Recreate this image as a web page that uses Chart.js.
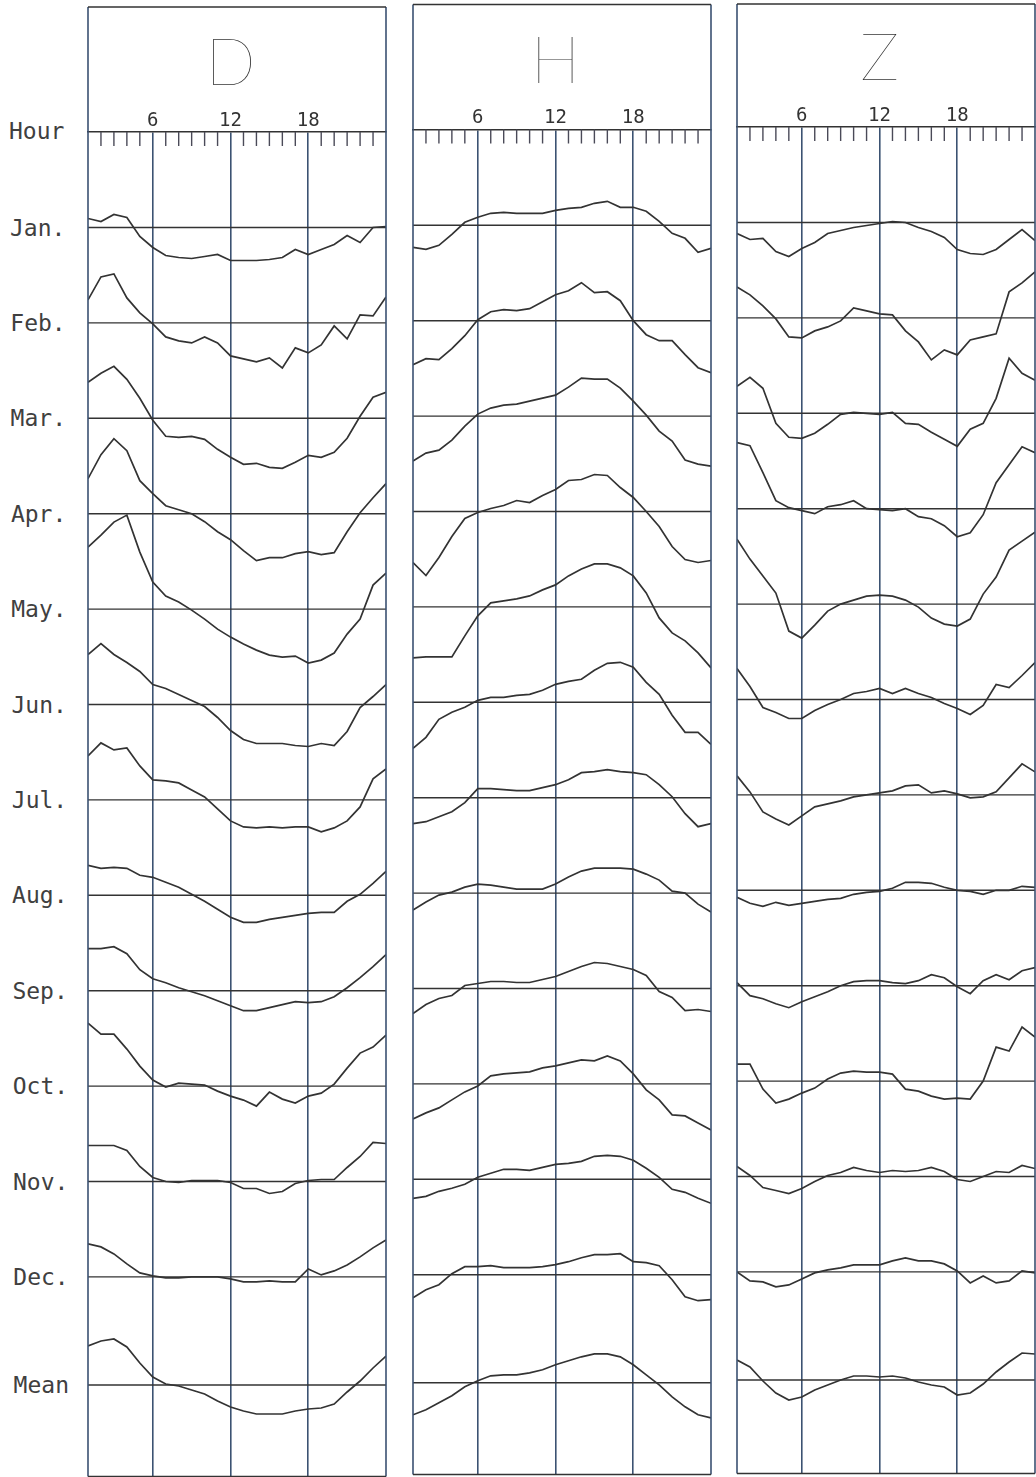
<!DOCTYPE html>
<html>
<head>
<meta charset="utf-8">
<script src="https://cdn.jsdelivr.net/npm/chart.js@4.4.1/dist/chart.umd.min.js"></script>
<style>
  html, body { margin: 0; padding: 0; background: #fff; overflow: hidden; }
  body { width: 1036px; height: 1477px; position: relative; }
  canvas.panel { position: absolute; top: 0; }
  .rowlab {
    position: absolute;
    font-family: "DejaVu Sans Mono", monospace;
    font-size: 23px;
    line-height: 28px;
    color: #404040;
    white-space: nowrap;
  }
</style>
</head>
<body>
<canvas id="chartD" class="panel"></canvas>
<canvas id="chartH" class="panel"></canvas>
<canvas id="chartZ" class="panel"></canvas>
<script>
"use strict";

// ---- data (deviation from each row's base line, hourly values 1..24 h) ----
const HOURS       = [1, 2, 3, 4, 5, 6, 7, 8, 9, 10, 11, 12, 13, 14, 15, 16, 17, 18, 19, 20, 21, 22, 23, 24];
const HOUR_LABELS = [6, 12, 18];
const ROW_LABELS  = ["Jan.", "Feb.", "Mar.", "Apr.", "May.", "Jun.", "Jul.", "Aug.", "Sep.", "Oct.", "Nov.", "Dec.", "Mean"];

const dCurves = [
  [9, 6, 13, 10, -9, -20, -28, -30, -31, -29, -27, -33, -33, -33, -32, -30, -22, -27, -22, -17, -8, -15, 0, 1],
  [23, 46, 49, 25, 10, -1, -14, -18, -20, -14, -20, -33, -36, -39, -35, -45, -25, -30, -22, -3, -16, 8, 7, 26],
  [36, 45, 52, 39, 20, -2, -18, -19, -18, -21, -31, -39, -46, -45, -49, -50, -44, -37, -39, -34, -20, 2, 21, 26],
  [35, 59, 75, 63, 33, 20, 8, 4, 0, -8, -18, -26, -37, -47, -44, -44, -40, -38, -41, -39, -18, 1, 16, 30],
  [62, 74, 87, 94, 57, 27, 13, 7, -1, -10, -20, -28, -35, -41, -46, -48, -47, -54, -51, -44, -25, -10, 24, 36],
  [50, 61, 50, 42, 33, 20, 16, 10, 4, -2, -13, -26, -35, -39, -39, -39, -41, -42, -39, -41, -27, -3, 8, 20],
  [44, 57, 50, 52, 34, 20, 19, 17, 10, 3, -9, -21, -27, -28, -27, -28, -27, -27, -32, -28, -21, -7, 21, 31],
  [30, 27, 28, 27, 20, 18, 13, 8, 1, -6, -14, -22, -27, -27, -24, -22, -20, -18, -17, -17, -6, 1, 12, 24],
  [42, 42, 44, 37, 21, 12, 8, 3, -1, -5, -10, -15, -20, -20, -17, -14, -11, -12, -11, -6, 3, 13, 24, 36],
  [63, 52, 52, 37, 20, 6, -1, 3, 2, 1, -5, -10, -14, -20, -6, -13, -17, -10, -7, 2, 18, 33, 39, 51],
  [36, 36, 36, 31, 15, 4, 0, -1, 1, 1, 1, -1, -7, -7, -12, -10, -2, 1, 2, 2, 14, 25, 39, 38],
  [33, 30, 23, 13, 4, 1, -1, -1, 0, 0, 0, -2, -5, -5, -4, -5, -5, 8, 2, 6, 12, 20, 29, 37],
  [39, 44, 46, 38, 22, 8, 1, -1, -5, -9, -16, -22, -26, -29, -29, -29, -26, -24, -23, -19, -7, 4, 17, 29],
];

const hCurves = [
  [-22, -24, -20, -9, 3, 8, 12, 13, 12, 12, 12, 15, 17, 18, 22, 24, 18, 18, 14, 4, -8, -13, -27, -23],
  [-44, -38, -39, -28, -15, 1, 9, 11, 10, 12, 19, 26, 30, 38, 28, 29, 20, 0, -14, -20, -20, -34, -47, -52],
  [-45, -37, -34, -24, -10, 2, 8, 11, 12, 15, 18, 21, 29, 38, 37, 37, 28, 15, 1, -15, -25, -44, -48, -50],
  [-51, -64, -46, -25, -7, -1, 3, 6, 11, 9, 16, 22, 31, 32, 37, 36, 24, 14, 0, -15, -35, -48, -51, -49],
  [-51, -50, -50, -50, -29, -9, 4, 6, 8, 11, 17, 22, 31, 38, 43, 43, 39, 31, 14, -11, -26, -34, -46, -61],
  [-46, -35, -17, -10, -5, 2, 5, 5, 7, 8, 12, 18, 21, 23, 32, 39, 40, 35, 20, 8, -13, -30, -30, -42],
  [-26, -24, -19, -14, -5, 9, 9, 8, 7, 7, 10, 13, 18, 25, 26, 28, 26, 25, 23, 13, 1, -16, -29, -26],
  [-17, -9, -2, 1, 6, 9, 8, 6, 4, 4, 4, 9, 16, 22, 25, 25, 25, 24, 19, 13, 2, 0, -11, -19],
  [-25, -16, -10, -7, 3, 5, 7, 7, 6, 6, 9, 12, 17, 22, 26, 25, 22, 19, 13, -3, -9, -22, -21, -23],
  [-35, -29, -24, -16, -8, -2, 8, 10, 11, 12, 16, 18, 21, 24, 23, 28, 23, 10, -6, -16, -31, -32, -39, -46],
  [-19, -17, -12, -9, -5, 2, 6, 10, 10, 9, 12, 15, 16, 18, 23, 24, 23, 19, 11, 2, -10, -13, -19, -24],
  [-23, -15, -10, 1, 8, 8, 9, 7, 7, 7, 8, 10, 13, 17, 20, 20, 21, 13, 12, 9, -5, -22, -26, -25],
  [-32, -27, -20, -13, -4, 2, 7, 8, 8, 10, 13, 18, 22, 26, 29, 29, 26, 18, 8, -2, -14, -24, -32, -35],
];

const zCurves = [
  [-11, -17, -16, -29, -34, -26, -20, -11, -8, -5, -3, -1, 1, 0, -5, -9, -15, -27, -31, -32, -27, -17, -7, -18],
  [31, 23, 12, -1, -19, -20, -13, -9, -3, 10, 7, 4, 3, -13, -24, -42, -32, -37, -22, -19, -16, 26, 35, 46],
  [27, 36, 25, -10, -24, -25, -20, -11, -1, 1, 0, -1, 1, -10, -11, -19, -26, -33, -16, -10, 15, 55, 40, 33],
  [66, 63, 36, 8, 1, -2, -5, 2, 4, 8, 0, -1, -2, 0, -8, -10, -17, -28, -24, -6, 26, 44, 62, 56],
  [65, 45, 28, 11, -27, -34, -21, -7, 0, 4, 8, 9, 8, 4, -3, -14, -20, -22, -15, 10, 27, 54, 63, 72],
  [31, 13, -8, -13, -19, -19, -11, -5, 0, 6, 8, 11, 6, 11, 6, 2, -4, -9, -15, -6, 15, 12, 24, 37],
  [19, 3, -17, -24, -30, -21, -12, -9, -6, -2, 0, 2, 4, 9, 10, 2, 4, 1, -3, -2, 3, 17, 31, 23],
  [-7, -13, -16, -12, -15, -13, -11, -9, -8, -4, -2, -1, 2, 8, 8, 7, 3, 0, -1, -4, 0, 0, 4, 3],
  [3, -10, -13, -18, -22, -16, -11, -6, 0, 4, 5, 5, 3, 2, 5, 11, 8, -1, -8, 5, 11, 6, 15, 18],
  [17, 17, -8, -22, -18, -12, -7, 2, 8, 10, 9, 9, 7, -8, -10, -15, -18, -17, -18, 0, 34, 30, 54, 44],
  [10, 1, -11, -14, -17, -12, -5, 1, 4, 9, 6, 4, 6, 5, 6, 9, 5, -3, -5, 0, 5, 4, 11, 8],
  [0, -9, -10, -15, -13, -7, -1, 2, 4, 7, 7, 7, 11, 14, 11, 11, 8, 1, -11, -4, -11, -9, 1, -1],
  [20, 13, -1, -13, -20, -17, -10, -5, 0, 4, 4, 3, 4, 2, -2, -5, -7, -15, -13, -4, 8, 18, 27, 26],
];

// ---- layout ----
const PAGE_H      = 1477;
const PANEL_W     = 298;
const FIRST_ROW_Y = 227.5;
const ROW_STEP    = 95.4;
const MEAN_ROW_Y  = 1385;
const X_SCALE_H   = 26;

const INK    = "#333333";
const V_INK  = "#3b5272";
const TICK_FONT = "'DejaVu Sans Mono', monospace";

const PANELS = [
  { id: "chartD", title: "D", curves: dCurves, left: 88,  shift: 0,    axisY: 132,   topY: 7,   bottomY: 1476.5, titleY: 64 },
  { id: "chartH", title: "H", curves: hCurves, left: 413, shift: -2.2, axisY: 129.5, topY: 4.5, bottomY: 1474.5, titleY: 62 },
  { id: "chartZ", title: "Z", curves: zCurves, left: 737, shift: -5,   axisY: 127,   topY: 4,   bottomY: 1473.5, titleY: 59 },
];

function rowY(k) {
  return k < 12 ? FIRST_ROW_Y + k * ROW_STEP : MEAN_ROW_Y;
}

// draws frame, header box, hour ticks, title letter and row base lines
const panelDecor = {
  id: "panelDecor",
  beforeDatasetsDraw(chart, args, opts) {
    const { ctx, chartArea: a, scales: { y } } = chart;
    ctx.save();
    ctx.strokeStyle = INK;
    ctx.lineWidth = 1.4;
    opts.baselines.forEach((v) => {
      const py = y.getPixelForValue(v);
      ctx.beginPath();
      ctx.moveTo(a.left, py);
      ctx.lineTo(a.right, py);
      ctx.stroke();
    });
    ctx.restore();
  },
  afterDraw(chart, args, opts) {
    const { ctx, chartArea: a, scales: { x } } = chart;
    ctx.save();

    // hour tick marks hanging below the axis line
    ctx.strokeStyle = "#4a4a58";
    ctx.lineWidth = 1.4;
    HOURS.forEach((h) => {
      if (h === HOURS[0] || h === HOURS[HOURS.length - 1] || HOUR_LABELS.includes(h)) return;
      const px = x.getPixelForValue(h);
      ctx.beginPath();
      ctx.moveTo(px, a.top);
      ctx.lineTo(px, a.top + 14);
      ctx.stroke();
    });

    // panel frame
    ctx.strokeStyle = V_INK;
    ctx.lineWidth = 1.6;
    ctx.beginPath();
    ctx.moveTo(a.left, opts.topY);
    ctx.lineTo(a.left, a.bottom);
    ctx.moveTo(a.right, opts.topY);
    ctx.lineTo(a.right, a.bottom);
    ctx.stroke();
    ctx.strokeStyle = INK;
    ctx.lineWidth = 1.4;
    ctx.beginPath();
    ctx.moveTo(a.left, opts.topY);
    ctx.lineTo(a.right, opts.topY);
    ctx.moveTo(a.left, a.bottom);
    ctx.lineTo(a.right, a.bottom);
    ctx.stroke();

    // component letter
    ctx.fillStyle = INK;
    ctx.font = "200 66px Lato, Roboto, 'Noto Sans', sans-serif";
    ctx.textAlign = "center";
    ctx.textBaseline = "middle";
    ctx.fillText(opts.title, x.getPixelForValue(12), opts.titleY);
    ctx.restore();
  },
};

function renderPanel(p) {
  const canvas = document.getElementById(p.id);
  canvas.style.left = (p.left - 2) + "px";
  canvas.style.width = (PANEL_W + 4) + "px";
  canvas.style.height = PAGE_H + "px";
  canvas.width = PANEL_W + 4;
  canvas.height = PAGE_H;

  const span = p.bottomY - p.axisY;
  const baselines = ROW_LABELS.map((_, k) => -(rowY(k) + p.shift - p.axisY));

  const datasets = p.curves.map((vals, k) => ({
    label: ROW_LABELS[k],
    data: HOURS.map((h, i) => ({ x: h, y: baselines[k] + vals[i] })),
    borderColor: INK,
    borderWidth: 1.7,
    pointRadius: 0,
    tension: 0,
    fill: false,
  }));

  new Chart(canvas, {
    type: "line",
    data: { datasets },
    options: {
      responsive: false,
      animation: false,
      devicePixelRatio: 1,
      layout: {
        padding: { left: 2, right: 2, top: p.axisY - X_SCALE_H, bottom: PAGE_H - p.bottomY },
      },
      plugins: {
        legend: { display: false },
        tooltip: { enabled: false },
        panelDecor: { baselines, topY: p.topY, title: p.title, titleY: p.titleY },
      },
      scales: {
        x: {
          type: "linear",
          position: "top",
          min: HOURS[0],
          max: HOURS[HOURS.length - 1],
          afterFit: (s) => { s.height = X_SCALE_H; },
          ticks: {
            stepSize: 1,
            autoSkip: false,
            maxRotation: 0,
            padding: 0,
            color: INK,
            font: { family: TICK_FONT, size: 19 },
            callback: (v) => (HOUR_LABELS.includes(v) ? String(v) : ""),
          },
          grid: {
            drawTicks: false,
            lineWidth: 1.6,
            color: (c) => (c.tick && HOUR_LABELS.includes(c.tick.value) ? V_INK : "rgba(0,0,0,0)"),
          },
          border: { display: true, color: INK, width: 1.5 },
        },
        y: {
          type: "linear",
          display: false,
          min: -span,
          max: 0,
        },
      },
    },
    plugins: [panelDecor],
  });
}

function renderRowLabels() {
  const labels = [{ text: "Hour", y: 131, x: 9 }].concat(
    ROW_LABELS.map((t, k) => ({ text: t, y: rowY(k), x: 10 + k * 0.3 }))
  );
  labels.forEach((l) => {
    const d = document.createElement("div");
    d.className = "rowlab";
    d.textContent = l.text;
    d.style.left = l.x + "px";
    d.style.top = (l.y - 14) + "px";
    document.body.appendChild(d);
  });
}

renderRowLabels();
PANELS.forEach(renderPanel);
</script>
</body>
</html>
